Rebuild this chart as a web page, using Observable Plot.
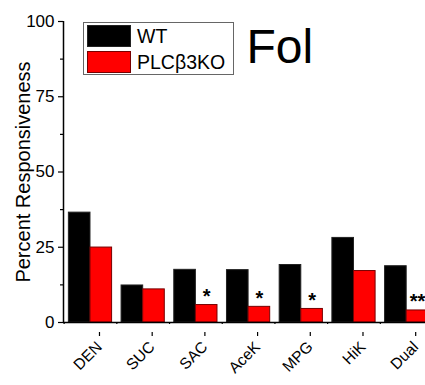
<!DOCTYPE html>
<html>
<head>
<meta charset="utf-8">
<script src="https://cdn.jsdelivr.net/npm/d3@7"></script>
<script src="https://cdn.jsdelivr.net/npm/@observablehq/plot@0.6"></script>
<style>
  body { margin: 0; background: #fff; }
  #wrap { position: relative; width: 425px; height: 385px; overflow: hidden; font-family: "Liberation Sans", Arial, sans-serif; }
  .legend { position: absolute; left: 83px; top: 22px; width: 149px; height: 51px; border: 1px solid #666; background: #fff; }
  .row { position: absolute; left: 3px; height: 22px; display: flex; align-items: center; }
  .sw { width: 44px; height: 22px; box-sizing: border-box; margin-right: 6px; }
  .lab { font-size: 19.5px; color: #000; line-height: 22px; }
</style>
</head>
<body>
<div id="wrap"></div>
<script>
const cats = ["DEN", "SUC", "SAC", "AceK", "MPG", "HiK", "Dual"];
const wt = [36.5, 12.3, 17.5, 17.4, 19.1, 28.1, 18.7];
const ko = [24.9, 11.0, 5.8, 5.2, 4.5, 17.1, 4.0];
const sig = ["", "", "*", "*", "*", "", "**"];
const series = ["WT", "PLCβ3KO"];
const colors = ["#000000", "#ff0000"];
const yTicks = [0, 25, 50, 75, 100];
const yMinor = [12.5, 37.5, 62.5, 87.5];
const title = "Fol";
const yLabel = "Percent Responsiveness";

const idx = d3.range(cats.length);
const bw = 0.41;
const rows = idx.flatMap(i => [
  {i, cat: cats[i], s: series[0], v: wt[i], x1: i - bw, x2: i},
  {i, cat: cats[i], s: series[1], v: ko[i], x1: i, x2: i + bw}
]);
const stars = idx.filter(i => sig[i]).map(i => ({i, v: ko[i], t: sig[i], x: i + bw / 2}));
const xMinor = [-0.5, ...idx.map(i => i + 0.5)];

const chart = Plot.plot({
  width: 425,
  height: 385,
  marginLeft: 63,
  marginRight: 0,
  marginTop: 21,
  marginBottom: 63,
  style: {fontFamily: "'Liberation Sans', Arial, sans-serif", color: "#000", background: "#fff"},
  x: {type: "linear", domain: [-0.512, 6.357]},
  y: {domain: [0, 100]},
  color: {domain: series, range: colors},
  marks: [
    Plot.rectY(rows, {x1: "x1", x2: "x2", y: "v", fill: "s", stroke: d => d.s === series[0] ? "#222" : "#700", strokeWidth: 1}),
    Plot.text(stars, {x: "x", y: "v", text: "t", fontSize: 20, fontWeight: "bold", lineAnchor: "bottom", dy: -2}),
    Plot.ruleY([0], {strokeWidth: 1.5}),
    Plot.ruleX([-0.512], {y1: 0, y2: 100, strokeWidth: 1.5}),
    Plot.axisY({ticks: yTicks, tickSize: 5, tickPadding: 4, fontSize: 17, label: null, strokeWidth: 1.2}),
    Plot.axisY({ticks: yMinor, tickSize: 3, tickFormat: () => "", label: null, strokeWidth: 1.2}),
    Plot.axisX({ticks: idx, tickFormat: i => cats[i], tickSize: 4, tickRotate: -45, fontSize: 15.5, label: null, strokeWidth: 1.2, dx: 9, dy: 10}),
    Plot.axisX({ticks: xMinor, tickSize: 2, tickFormat: () => "", label: null, strokeWidth: 1.2}),
    Plot.text([yLabel], {frameAnchor: "left", textAnchor: "middle", rotate: -90, dx: -40, fontSize: 20}),
    Plot.text([title], {frameAnchor: "top-left", textAnchor: "start", lineAnchor: "top", dx: 183, dy: 7, fontSize: 48})
  ]
});

const wrap = document.getElementById("wrap");
wrap.appendChild(chart);
const leg = document.createElement("div");
leg.className = "legend";
series.forEach((s, k) => {
  const r = document.createElement("div");
  r.className = "row";
  r.style.top = (k === 0 ? 2 : 28) + "px";
  const sw = document.createElement("div");
  sw.className = "sw";
  sw.style.background = colors[k];
  sw.style.border = "1px solid " + (k === 0 ? "#222" : "#700");
  const lb = document.createElement("span");
  lb.className = "lab";
  lb.textContent = s;
  r.appendChild(sw); r.appendChild(lb);
  leg.appendChild(r);
});
wrap.appendChild(leg);
</script>
</body>
</html>
